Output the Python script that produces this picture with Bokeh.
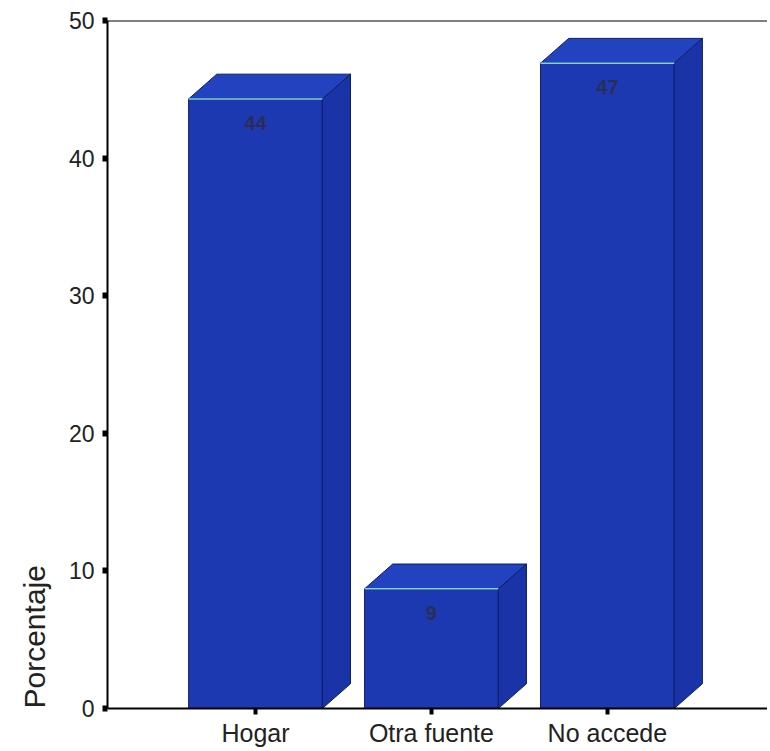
from bokeh.plotting import figure
from bokeh.models import Span, Title, FixedTicker, ColumnDataSource
from bokeh.embed import file_html
from bokeh.resources import INLINE
from bokeh.core.properties import value

categories = ["Hogar", "Otra fuente", "No accede"]
percentages = [44.3, 8.7, 46.9]
bar_labels = ["44", "9", "47"]
y_ticks = [0, 10, 20, 30, 40, 50]

xs = [1, 2, 3]
w = 0.76      # bar width (data units)
dx = 0.16     # 3D depth offset x
dy = 1.8      # 3D depth offset y

p = figure(frame_width=660, frame_height=688, x_range=(0.159, 3.91), y_range=(0, 50),
           output_backend="svg", toolbar_location=None,
           min_border_left=107, min_border_top=20, min_border_right=0, min_border_bottom=20)
p.background_fill_color = "white"
p.border_fill_color = "white"
p.outline_line_color = None
p.grid.visible = False

front = ColumnDataSource(dict(
    left=[x - w / 2 for x in xs], right=[x + w / 2 for x in xs],
    top=percentages, bottom=[0] * 3))
p.quad(left="left", right="right", top="top", bottom="bottom", source=front,
       fill_color="#1d39b2", line_color="#0e1d66", line_width=1)

side_x = [[x + w / 2, x + w / 2 + dx, x + w / 2 + dx, x + w / 2] for x in xs]
side_y = [[0, dy, v + dy, v] for v in percentages]
p.patches(side_x, side_y, fill_color="#1a34a8", line_color="#0e1d66", line_width=1)

top_x = [[x - w / 2, x - w / 2 + dx, x + w / 2 + dx, x + w / 2] for x in xs]
top_y = [[v, v + dy, v + dy, v] for v in percentages]
p.patches(top_x, top_y, fill_color="#2242c0", line_color="#0e1d66", line_width=1)

p.segment(x0=[x - w / 2 for x in xs], x1=[x + w / 2 for x in xs],
          y0=percentages, y1=percentages, line_color="#7fd6c8", line_width=1.5)

p.text(x=xs, y=[v - 1.75 for v in percentages], text=bar_labels,
       text_align="center", text_baseline="middle", text_color="#2a2d55",
       text_font=value("Liberation Sans"), text_font_size="20px", text_font_style="bold")

p.add_layout(Span(location=50, dimension="width", line_color="black", line_width=2))

for ax in (p.xaxis[0], p.yaxis[0]):
    ax.axis_line_color = "black"
    ax.axis_line_width = 2
    ax.major_tick_line_color = "black"
    ax.major_tick_in = 0
    ax.minor_tick_line_color = None
    ax.major_label_text_font = "Liberation Sans"
    ax.major_label_text_color = "#222222"

p.yaxis.ticker = FixedTicker(ticks=y_ticks)
p.yaxis.major_tick_out = 5
p.yaxis.major_tick_line_width = 6
p.yaxis.major_label_text_font_size = "23px"
p.yaxis.major_label_standoff = 8

p.xaxis.ticker = FixedTicker(ticks=xs)
p.xaxis.major_label_overrides = {x: c for x, c in zip(xs, categories)}
p.xaxis.major_tick_out = 6
p.xaxis.major_tick_line_width = 4
p.xaxis.major_label_text_font_size = "25px"
p.xaxis.major_label_standoff = 4

t = Title(text="Porcentaje", align="left", text_font="Liberation Sans",
          text_font_size="30px", text_font_style="normal", text_color="#222222",
          standoff=30)
p.add_layout(t, "left")

open("out.html", "w").write(file_html(p, INLINE))
